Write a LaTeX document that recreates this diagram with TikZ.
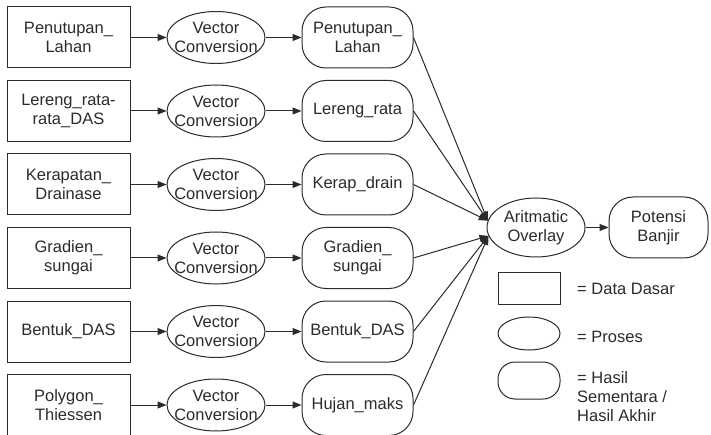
\documentclass[tikz,border=0pt]{standalone}
\usepackage{fontspec}
\setmainfont{Liberation Sans}
\usetikzlibrary{shapes.geometric,arrows.meta}
\definecolor{ink}{HTML}{2B2B2B}

\begin{document}
\begin{tikzpicture}[x=1pt,y=-1pt]
\tikzstyle{every node}+=[font=\fontsize{16.5}{19}\selectfont,text=ink,align=center]
\tikzstyle{data}=[draw=ink,line width=1pt,rectangle,minimum width=123pt,minimum height=61pt]
\tikzstyle{proses}=[draw=ink,line width=1pt,ellipse,inner xsep=-10pt,inner ysep=0pt,minimum width=98pt,minimum height=52pt]
\tikzstyle{hasil}=[draw=ink,line width=1pt,rectangle,rounded corners=24pt,minimum width=111pt,minimum height=61pt]
\tikzstyle{ket}=[inner sep=0pt,align=left]
\tikzstyle{panah}=[draw=ink,line width=1pt,-{Triangle[length=9pt,width=7pt]}]
\fill [white] (0,0) rectangle (711,435);
\useasboundingbox (0,0) rectangle (711,435);
% data dasar
\node [data] (d1) at (68.5,37.5) {Penutupan\_\\Lahan};
\node [data] (d2) at (68.5,111) {Lereng\_rata-\\rata\_DAS};
\node [data] (d3) at (68.5,184.5) {Kerapatan\_\\Drainase};
\node [data] (d4) at (68.5,258) {Gradien\_\\sungai};
\node [data] (d5) at (68.5,331.5) {Bentuk\_DAS};
\node [data] (d6) at (68.5,405) {Polygon\_\\Thiessen};
% proses konversi
\node [proses] (v1) at (216,37.5) {Vector\\Conversion};
\node [proses] (v2) at (216,111) {Vector\\Conversion};
\node [proses] (v3) at (216,184.5) {Vector\\Conversion};
\node [proses] (v4) at (216,258) {Vector\\Conversion};
\node [proses] (v5) at (216,331.5) {Vector\\Conversion};
\node [proses] (v6) at (216,405) {Vector\\Conversion};
% hasil sementara
\node [hasil] (h1) at (357.5,37.5) {Penutupan\_\\Lahan};
\node [hasil] (h2) at (357.5,111) {Lereng\_rata};
\node [hasil] (h3) at (357.5,184.5) {Kerap\_drain};
\node [hasil] (h4) at (357.5,258) {Gradien\_\\sungai};
\node [hasil] (h5) at (357.5,331.5) {Bentuk\_DAS};
\node [hasil] (h6) at (357.5,405) {Hujan\_maks};
% overlay dan hasil akhir
\node [proses,minimum height=59pt] (ov) at (536,227.5) {Aritmatic\\Overlay};
\node [hasil,minimum width=99pt] (pb) at (658.5,227.5) {Potensi\\Banjir};
% keterangan
\node [data,minimum width=62pt,minimum height=31pt] (kd) at (529,288.5) {};
\node [ket,anchor=west] (td) at (577,289) {= Data Dasar};
\node [proses,minimum width=62pt,minimum height=33pt] (kp) at (529,333.5) {};
\node [ket,anchor=west] (tp) at (577,337) {= Proses};
\node [hasil,minimum width=62pt,minimum height=37pt,rounded corners=17pt] (kh) at (529,380.5) {};
\node [ket,anchor=north west] (th) at (577,371) {= Hasil\\Sementara /\\Hasil Akhir};
% panah
\draw [panah] (d1) -- (v1);
\draw [panah] (d2) -- (v2);
\draw [panah] (d3) -- (v3);
\draw [panah] (d4) -- (v4);
\draw [panah] (d5) -- (v5);
\draw [panah] (d6) -- (v6);
\draw [panah] (v1) -- (h1);
\draw [panah] (v2) -- (h2);
\draw [panah] (v3) -- (h3);
\draw [panah] (v4) -- (h4);
\draw [panah] (v5) -- (h5);
\draw [panah] (v6) -- (h6);
\draw [panah] (h1.east) -- (ov.172);
\draw [panah] (h2.east) -- (ov.172);
\draw [panah] (h3.east) -- (ov.172);
\draw [panah] (h4.east) -- (ov.190);
\draw [panah] (h5.east) -- (ov.190);
\draw [panah] (h6.east) -- (ov.190);
\draw [panah] (ov) -- (pb);
\end{tikzpicture}
\end{document}
